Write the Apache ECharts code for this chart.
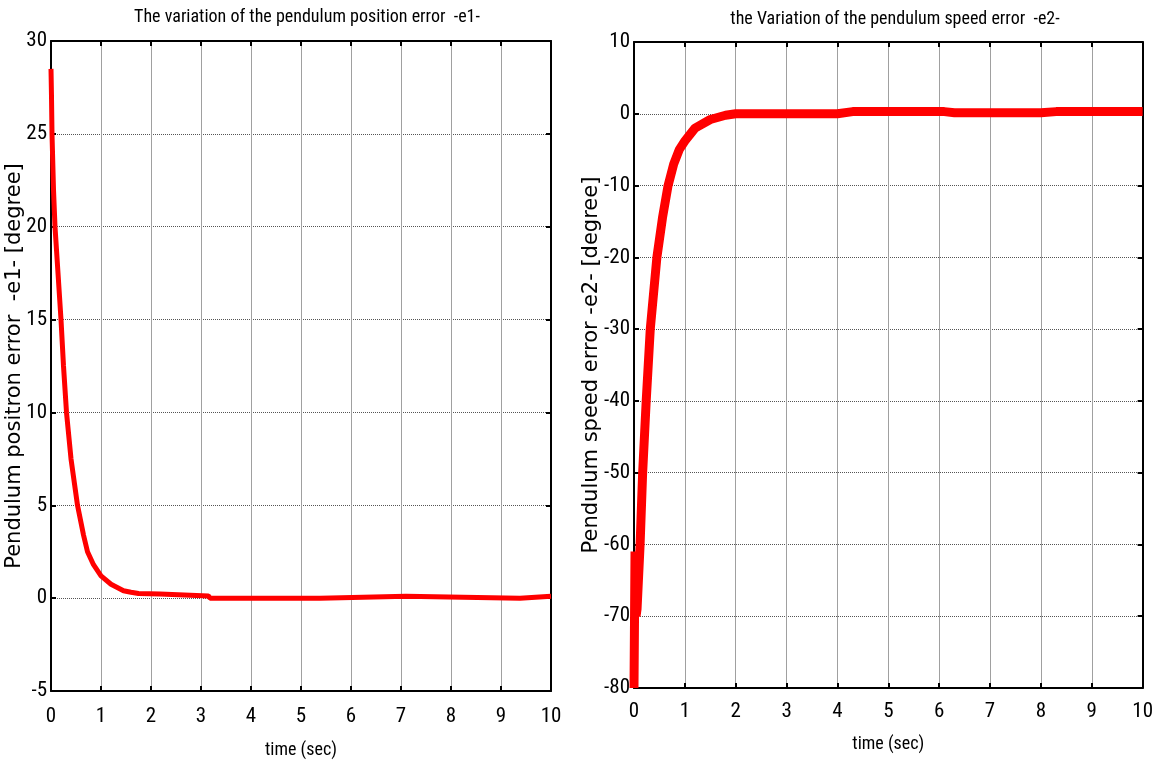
<!DOCTYPE html>
<html>
<head>
<meta charset="utf-8">
<script src="https://cdn.jsdelivr.net/npm/echarts@6/dist/echarts.min.js"></script>
<style>
  html, body { margin: 0; padding: 0; background: #fff; }
  #main { width: 1156px; height: 764px; }
</style>
</head>
<body>
<div id="main"></div>
<script>
// e1 : pendulum position error
var e1Time   = [0, 0.01, 0.02, 0.05, 0.08, 0.14, 0.2, 0.25, 0.31, 0.4, 0.53, 0.65, 0.73, 0.85, 1.0, 1.2, 1.45, 1.6, 1.75, 2.18, 2.2, 3.15, 3.18, 5.38, 5.42, 7.1, 7.14, 9.38, 9.42, 10];
var e1Values = [28.5, 27, 25, 22, 20, 17.5, 15, 12.5, 10, 7.5, 5, 3.4, 2.5, 1.8, 1.2, 0.75, 0.4, 0.32, 0.25, 0.22, 0.12, 0.12, 0, 0, 0.1, 0.1, 0, 0, 0.1, 0.1];

// e2 : pendulum speed error
var e2Time   = [0, 0.02, 0.04, 0.06, 0.12, 0.17, 0.24, 0.32, 0.45, 0.56, 0.67, 0.78, 0.89, 1.0, 1.2, 1.5, 1.8, 2.0, 4.0, 4.3, 6.1, 6.3, 8.0, 8.3, 10];
var e2Values = [-80, -61, -70, -69, -60, -50, -40, -30, -20, -14.5, -10, -7, -5, -3.8, -2, -0.8, -0.2, 0, 0, 0.3, 0.3, 0.15, 0.15, 0.3, 0.3];

function pairs(t, v) {
  return t.map(function (x, i) { return [x, v[i]]; });
}

var narrow = '"Roboto Condensed", "Liberation Sans Narrow", Roboto, sans-serif';
var wide = '"DejaVu Sans", "Liberation Sans", sans-serif';

function xMain(gi, nameGap, margin) {
  return {
    type: 'value', gridIndex: gi, min: 0, max: 10, interval: 1, position: 'bottom',
    name: 'time (sec)', nameLocation: 'middle', nameGap: nameGap,
    nameTextStyle: { fontFamily: narrow, fontSize: 18, color: '#000' },
    axisLine: { show: true, onZero: false, lineStyle: { color: '#000', width: 2 } },
    axisTick: { show: true, inside: true, length: 5, lineStyle: { color: '#000', width: 2 } },
    axisLabel: { fontFamily: narrow, fontSize: 21, color: '#000', margin: margin },
    splitLine: { show: true, lineStyle: { color: '#a0a0a0', width: 1, type: 'solid' } }
  };
}
function xTop(gi) {
  return {
    type: 'value', gridIndex: gi, min: 0, max: 10, interval: 1, position: 'top',
    axisLine: { show: true, onZero: false, lineStyle: { color: '#000', width: 2 } },
    axisTick: { show: true, inside: true, length: 5, lineStyle: { color: '#000', width: 2 } },
    axisLabel: { show: false }, splitLine: { show: false }
  };
}
function yMain(gi, min, max, step, name, nameGap) {
  return {
    type: 'value', gridIndex: gi, min: min, max: max, interval: step, position: 'left',
    name: name, nameLocation: 'middle', nameGap: nameGap, nameMoveOverlap: false,
    nameTextStyle: { fontFamily: wide, fontSize: 21, color: '#000' },
    axisLine: { show: true, onZero: false, lineStyle: { color: '#000', width: 2 } },
    axisTick: { show: true, inside: true, length: 5, lineStyle: { color: '#000', width: 2 } },
    axisLabel: { fontFamily: narrow, fontSize: 21, color: '#000', margin: 4 },
    splitLine: { show: true, lineStyle: { color: '#555', width: 1, type: [1, 1] } }
  };
}
function yRight(gi, min, max, step) {
  return {
    type: 'value', gridIndex: gi, min: min, max: max, interval: step, position: 'right',
    axisLine: { show: true, onZero: false, lineStyle: { color: '#000', width: 2 } },
    axisTick: { show: true, inside: true, length: 5, lineStyle: { color: '#000', width: 2 } },
    axisLabel: { show: false }, splitLine: { show: false }
  };
}

var chart = echarts.init(document.getElementById('main'));
chart.setOption({
  animation: false,
  backgroundColor: '#fff',
  title: [
    { text: 'The variation of the pendulum position error  -e1-', left: 302, top: 3, textAlign: 'center',
      textStyle: { fontFamily: narrow, fontSize: 18, fontWeight: 'normal', color: '#000' } },
    { text: 'the Variation of the pendulum speed error  -e2-', left: 890, top: 5, textAlign: 'center',
      textStyle: { fontFamily: narrow, fontSize: 18, fontWeight: 'normal', color: '#000' } }
  ],
  grid: [
    { left: 51, top: 41, width: 500, height: 650, containLabel: false },
    { left: 634, top: 42, width: 518, height: 646, containLabel: false }
  ],
  xAxis: [xMain(0, 50, 15), xTop(0), xMain(1, 47, 13), xTop(1)],
  yAxis: [
    yMain(0, -5, 30, 5, 'Pendulum positron error  -e1- [degree]', 26),
    yRight(0, -5, 30, 5),
    yMain(1, -80, 10, 10, 'Pendulum speed error -e2- [degree]', 32),
    yRight(1, -80, 10, 10)
  ],
  series: [
    { type: 'line', xAxisIndex: 0, yAxisIndex: 0, data: pairs(e1Time, e1Values),
      showSymbol: false, smooth: false, lineStyle: { color: '#ff0000', width: 5 }, itemStyle: { color: '#ff0000' } },
    { type: 'line', xAxisIndex: 2, yAxisIndex: 2, data: pairs(e2Time, e2Values),
      showSymbol: false, smooth: false, lineStyle: { color: '#ff0000', width: 9 }, itemStyle: { color: '#ff0000' } }
  ]
});
</script>
</body>
</html>
